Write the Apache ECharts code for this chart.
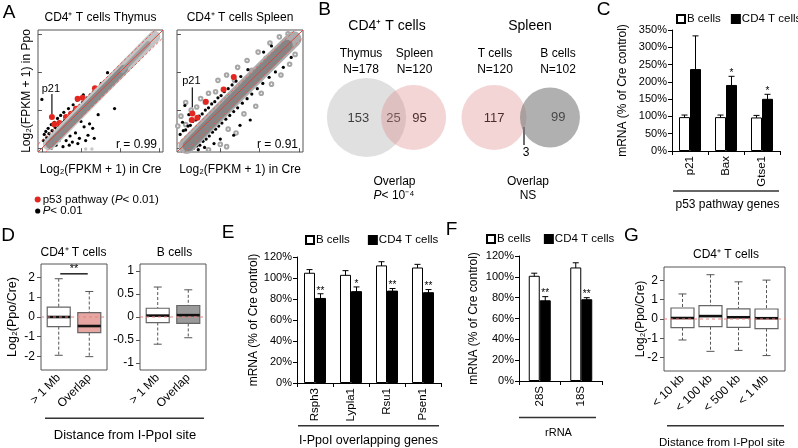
<!DOCTYPE html>
<html><head><meta charset="utf-8">
<script src="https://cdn.jsdelivr.net/npm/echarts@6/dist/echarts.min.js"></script>
<style>html,body{margin:0;padding:0;background:#fff}#c{width:798px;height:448px}</style>
</head><body><div id="c"></div>
<script>
const FONT = '"Liberation Sans", Arial, Helvetica, sans-serif';

// ---------- Panel A data (log2(FPKM+1), Cre vs Ppo) ----------
const aTicks = [0, 5, 10, 15];
const diagOffsets = [0, 1, -1];
const thymusCloudHalo = [[0.9, 0.5], [5, 4.8], [10, 10], [14.4, 14.6]];
const thymusCloudCore = [[1.0, 0.5], [5, 4.7], [10.5, 10.4]];
const thymusCloudTop = [[10.3, 10.2], [13.6, 13.7]];
const thymusLight = [[5.6, -0.1], [6.4, -0.1], [12.5, 13.4], [13.8, 14.3], [11.8, 12.4], [14.3, 14.6], [13.1, 12.6]];
const thymusBlack = [
  [0.6,1.4],[0.9,1.9],[1.1,1.6],[1.3,2.3],[1.5,2.0],[1.7,2.7],[1.9,2.4],[2.1,3.0],[2.3,2.8],[2.5,3.4],
  [2.7,3.1],[2.9,3.7],[3.1,3.5],[3.3,4.1],[3.5,3.9],[3.7,4.5],[3.9,4.3],[4.1,4.9],[4.3,4.7],[4.6,5.3],
  [4.9,5.6],[5.2,6.0],[5.5,6.3],[5.8,6.6],[6.2,7.0],[6.6,7.4],[7.0,7.8],
  [0.8,2.6],[1.2,3.1],[1.6,3.4],[2.0,3.9],[2.4,4.3],[2.8,4.7],[3.4,5.2],[4.0,5.7],[4.5,6.3],[5.3,7.0],[0.5,2.2],
  [0.2,1.0],[0.4,0.6],[0.3,1.8],
  [0.0,6.4],[9.3,5.2],[8.4,9.9],[9.2,9.6],[7.6,8.5],[10.5,10.9],
  [5.0,3.5],[5.4,2.8],[6.1,3.2],[6.5,2.6],[5.9,1.7],[4.8,1.3],[5.6,1.0],[6.7,1.3],[4.6,0.6],[3.9,0.8],
  [3.5,0.4],[2.7,0.2],[1.8,0.4],[1.2,0.0],[3.1,1.0],[2.2,1.0],[4.3,2.0],[3.6,1.6],[7.2,4.4]
];
const thymusRed = [[1.28,4.08],[1.58,3.13],[2.22,3.3],[3.08,4.08],[3.72,4.52],[4.36,5.17],[4.57,6.48],[5.21,6.61],[6.79,7.87]];
const thymusP21 = [1.28, 4.08];

const spleenCloudHalo = [[0.7, 0.3], [7, 6.9], [14.3, 14.3]];
const spleenCloudCore = [[0.9, 0.3], [7, 6.8], [13.5, 13.5]];
const spleenOpen = [
  [-0.4,2.9],[0.2,0.3],[0.0,4.2],[0.6,6.0],[1.3,5.0],[2.5,6.5],[3.5,7.2],[4.7,8.9],[5.8,9.6],[7.2,10.6],
  [8.4,11.5],[9.8,12.6],[11.3,13.8],[12.5,14.6],[13.6,15.0],[1.0,-0.3],[3.5,-0.2],[5.0,0.5],[6.0,2.5],[7.0,2.0],
  [8.0,4.5],[9.5,5.5],[10.2,7.2],[11.5,8.4],[12.7,9.6],[13.8,11.0],[14.5,12.3],[0.6,3.1],[1.5,1.6],[2.0,5.4],
  [5.8,0.2],[3.1,6.0],[6.8,8.9],[10.8,11.8],[12.8,12.0],[4.4,7.4],[9.0,10.2],[14.8,14.2]
];
const spleenBlack = [
  [-0.1,1.8],[0.3,2.3],[0.6,2.4],[0.9,2.9],[1.2,3.0],[1.5,3.5],[1.9,3.7],[2.3,4.2],[2.7,4.5],[3.1,5.0],
  [3.5,5.3],[3.9,5.8],[4.3,6.1],[4.7,6.6],[5.1,6.9],[5.5,7.4],[6.0,7.8],[6.5,8.3],[7.0,8.8],[7.6,9.4],
  [0.2,3.4],[1.0,4.4],[0.5,5.6],[8.5,10.3],[10.5,12.6],[11.5,13.4],
  [1.6,0.0],[2.0,0.3],[2.4,0.4],[2.8,0.9],[3.2,1.2],[3.6,1.6],[4.0,2.1],[4.4,2.5],[4.8,2.9],[5.2,3.3],
  [5.7,3.8],[6.2,4.3],[6.7,4.8],[7.2,5.3],[7.8,5.9],[8.4,6.5],[9.0,7.1],[9.7,7.8],[10.4,8.5],[11.2,9.3],
  [12.0,10.0],[13.0,10.6],[2.2,-0.2],[3.0,0.1],[6.7,1.7],[8.8,3.7],[5.0,1.2],[7.5,3.0],[14.0,11.9],[4.2,0.6]
];
const spleenRed = [[6.71,9.34],[5.42,7.69],[3.16,6.08],[1.45,4.56],[2.09,4.0],[1.37,3.69]];
const spleenP21 = [1.45, 4.56];
const rValues = ['r = 0.99', 'r = 0.91'];

// ---------- Panel B (Venn) ----------
const venn1Names = ['Thymus', 'Spleen'];
const venn1N = [178, 120];
const venn1Counts = [153, 25, 95];
const venn1P = 'P< 10⁻⁴';
const venn2Names = ['T cells', 'B cells'];
const venn2N = [120, 102];
const venn2Counts = [117, 3, 99];
const venn2P = 'NS';

// ---------- Panel C ----------
const cCats = ['p21', 'Bax', 'Gtse1'];
const cB = [98, 98, 97];
const cBErr = [6, 6, 6];
const cT = [237, 191, 151];
const cTErr = [96, 25, 13];
const cSig = ['', '*', '*'];

// ---------- Panel D ----------
const dCats = ['> 1 Mb', 'Overlap'];
// [min, q1, median, q3, max]
const dCd4 = [[-1.95, -0.49, 0.0, 0.5, 1.95], [-2.02, -0.8, -0.46, 0.22, 1.3]];
const dBcell = [[-0.59, -0.12, 0.03, 0.19, 0.65], [-0.45, -0.14, 0.04, 0.25, 0.59]];
const dSigPair = [1.05, 1.95];
const dSigY = 2.2;
const dSigLabel = '**';
const dTicksCd4 = [-2, -1, 0, 1, 2];
const dTicksB = [-1, -0.5, 0, 0.5, 1];

// ---------- Panel E ----------
const eCats = ['Rsph3', 'Lypla1', 'Rsu1', 'Psen1'];
const eB = [105, 103, 112, 110];
const eBErr = [3, 4, 3.5, 3];
const eT = [81, 87.5, 88, 86.5];
const eTErr = [4, 4, 2, 2.5];
const eSig = ['**', '*', '**', '**'];

// ---------- Panel F ----------
const fCats = ['28S', '18S'];
const fB = [101, 109];
const fBErr = [2.5, 4.5];
const fT = [77.5, 78.5];
const fTErr = [3.5, 1.5];
const fSig = ['**', '**'];

// ---------- Panel G ----------
const gCats = ['< 10 kb', '< 100 kb', '< 500 kb', '< 1 Mb'];
const gStats = [[-1.09, -0.45, 0.05, 0.57, 1.3], [-1.68, -0.4, 0.15, 0.69, 2.3], [-1.63, -0.43, 0.09, 0.53, 1.93], [-1.9, -0.5, 0.04, 0.52, 2.02]];
const gTicks = [-2, -1, 0, 1, 2];

// ================== layout / styles ==================
const FRAME = '#555';
const BW = 11;
const grids = [
  {left: 38, top: 30, width: 125, height: 122},   // 0 A thymus
  {left: 177, top: 30, width: 126, height: 122},  // 1 A spleen
  {left: 672, top: 30, width: 108, height: 121},  // 2 C
  {left: 41, top: 264, width: 66, height: 106},   // 3 D CD4
  {left: 140, top: 264, width: 66, height: 106},  // 4 D B cells
  {left: 297, top: 257, width: 144, height: 126}, // 5 E
  {left: 519, top: 256, width: 83, height: 125},  // 6 F
  {left: 664, top: 267, width: 121, height: 104}, // 7 G
  {left: 0, top: 0, width: 798, height: 448}      // 8 Venn canvas
].map((g, i) => Object.assign({containLabel: false}, g,
  [0, 1, 3, 4, 7].includes(i) ? {show: true, borderColor: FRAME, borderWidth: 1, backgroundColor: 'transparent'} : {show: false}));

function aAxis(g) {
  return {gridIndex: g, type: 'value', min: -0.5, max: 15.5,
    axisLine: {show: false}, splitLine: {show: false},
    axisTick: {show: true, customValues: aTicks, length: 4, lineStyle: {color: FRAME}},
    axisLabel: {show: false}};
}
function barX(g, cats) {
  return {gridIndex: g, type: 'category', data: cats,
    axisLine: {show: true, lineStyle: {color: '#000', width: 1}},
    axisTick: {show: true, length: 4, lineStyle: {color: '#000'}},
    axisLabel: {rotate: 90, fontSize: 11.5, fontFamily: FONT, color: '#000', margin: 5}};
}
function barY(g, max, step) {
  return {gridIndex: g, type: 'value', min: 0, max: max, interval: step,
    axisLine: {show: true, lineStyle: {color: '#000'}},
    axisTick: {show: true, length: 4, lineStyle: {color: '#000'}},
    splitLine: {show: false},
    axisLabel: {formatter: '{value}%', fontSize: 11, fontFamily: FONT, color: '#000', margin: 5}};
}
function boxX(g, cats, mn, mx) {
  const cv = cats.map((c, i) => i + 1);
  return {gridIndex: g, type: 'value', min: mn, max: mx,
    axisLine: {show: false}, splitLine: {show: false},
    axisTick: {show: true, customValues: cv, length: 4, lineStyle: {color: FRAME}},
    axisLabel: {customValues: cv, formatter: v => cats[Math.round(v) - 1], rotate: 45,
      fontSize: 12, fontFamily: FONT, color: '#000', margin: 6}};
}
function boxY(g, mn, mx, ticks) {
  return {gridIndex: g, type: 'value', min: mn, max: mx,
    axisLine: {show: false}, splitLine: {show: false},
    axisTick: {show: true, customValues: ticks, length: 4, lineStyle: {color: FRAME}},
    axisLabel: {customValues: ticks, fontSize: 12, fontFamily: FONT, color: '#000', margin: 6}};
}

const xAxis = [aAxis(0), aAxis(1), barX(2, cCats), boxX(3, dCats, 0.42, 2.58), boxX(4, dCats, 0.42, 2.58),
  barX(5, eCats), barX(6, fCats), boxX(7, gCats, 0.34, 4.66),
  {gridIndex: 8, type: 'value', min: 0, max: 798, show: false}];
const yAxis = [aAxis(0), aAxis(1), barY(2, 350, 50), boxY(3, -2.7, 2.7, dTicksCd4), boxY(4, -1.15, 1.15, dTicksB),
  barY(5, 120, 20), barY(6, 120, 20), boxY(7, -2.7, 2.7, gTicks),
  {gridIndex: 8, type: 'value', min: 0, max: 448, inverse: true, show: false}];

const series = [];
function lineS(g, data, color, width, extra) {
  series.push({type: 'line', xAxisIndex: g, yAxisIndex: g, data: data, showSymbol: false, silent: true,
    lineStyle: Object.assign({color: color, width: width, cap: 'round', join: 'round'}, extra || {})});
}
function scatterS(g, data, color, size, symbol) {
  series.push({type: 'scatter', xAxisIndex: g, yAxisIndex: g, data: data, symbol: symbol || 'circle',
    symbolSize: size, silent: true, itemStyle: {color: color, opacity: 1}});
}
function diag(g) {
  diagOffsets.forEach(o => {
    lineS(g, [[-0.5, -0.5 + o], [15.5, 15.5 + o]], o === 0 ? '#d8463f' : '#e0605a', 1,
      o === 0 ? {type: 'solid', cap: 'butt'} : {type: [3, 2], cap: 'butt'});
  });
}
// A thymus
lineS(0, thymusCloudHalo, '#c4c4c4', 12);
lineS(0, thymusCloudCore, '#8a8a8a', 8);
lineS(0, thymusCloudTop, '#a0a0a0', 5);
scatterS(0, thymusLight, '#c8c8c8', 3.5);
scatterS(0, thymusBlack, '#000', 3.2);
diag(0);
scatterS(0, thymusRed, '#e3261f', 6);
// A spleen
lineS(1, spleenCloudHalo, '#acacac', 16);
lineS(1, spleenCloudCore, '#858585', 11);
scatterS(1, spleenOpen, '#a6a6a6', 3.6, 'emptyCircle');
scatterS(1, spleenBlack, '#000', 3.2);
diag(1);
scatterS(1, spleenRed, '#e3261f', 6);

// Bars with error bars
function errSeries(g, vals, errs, sigs, side) {
  series.push({type: 'custom', name: 'err', xAxisIndex: g, yAxisIndex: g, silent: true,
    data: vals.map((v, i) => [i, v, errs[i], sigs ? sigs[i].length : 0]),
    encode: {x: 0, y: 1},
    renderItem: (params, api) => {
      const i = api.value(0), v = api.value(1), e = api.value(2), s = api.value(3);
      const c = api.coord([i, v]), top = api.coord([i, v + e]), bot = api.coord([i, v - e]);
      const x = c[0] + side * BW / 2, cw = 3;
      const st = {stroke: '#000', lineWidth: 1};
      const ch = [
        {type: 'line', shape: {x1: x, y1: top[1], x2: x, y2: bot[1]}, style: st},
        {type: 'line', shape: {x1: x - cw, y1: top[1], x2: x + cw, y2: top[1]}, style: st},
        {type: 'line', shape: {x1: x - cw, y1: bot[1], x2: x + cw, y2: bot[1]}, style: st}];
      if (s > 0) ch.push({type: 'text', style: {text: '*'.repeat(s), x: x, y: top[1] + 2, align: 'center',
        verticalAlign: 'bottom', fontSize: 10, fontFamily: FONT, fill: '#000'}});
      return {type: 'group', children: ch};
    }});
}
function barPanel(g, bVals, bErr, tVals, tErr, tSig) {
  series.push({type: 'bar', name: 'B cells', xAxisIndex: g, yAxisIndex: g, data: bVals, barWidth: BW, barGap: '0%',
    silent: true, itemStyle: {color: '#fff', borderColor: '#000', borderWidth: 1}});
  series.push({type: 'bar', name: 'CD4 T cells', xAxisIndex: g, yAxisIndex: g, data: tVals, barWidth: BW, barGap: '0%',
    silent: true, itemStyle: {color: '#000', borderColor: '#000', borderWidth: 1}});
  errSeries(g, bVals, bErr, null, -1);
  errSeries(g, tVals, tErr, tSig, 1);
}
barPanel(2, cB, cBErr, cT, cTErr, cSig);
barPanel(5, eB, eBErr, eT, eTErr, eSig);
barPanel(6, fB, fBErr, fT, fTErr, fSig);

// Boxplots
function zeroLine(g, mn, mx) {
  lineS(g, [[mn, 0], [mx, 0]], '#e88080', 1, {type: [3, 3], cap: 'butt'});
}
function boxSeries(g, stats, fills) {
  series.push({type: 'custom', xAxisIndex: g, yAxisIndex: g, silent: true,
    data: stats.map((s, i) => [i + 1].concat(s)),
    encode: {x: 0, y: [1, 2, 3, 4, 5]},
    renderItem: (params, api) => {
      const x = api.value(0);
      const p = [1, 2, 3, 4, 5].map(k => api.coord([x, api.value(k)]));
      const cx = p[0][0], hw = 11.5, cw = 4;
      const wl = {stroke: '#555', lineWidth: 1, lineDash: [3, 2]};
      const sl = {stroke: '#555', lineWidth: 1};
      return {type: 'group', children: [
        {type: 'line', shape: {x1: cx, y1: p[4][1], x2: cx, y2: p[3][1]}, style: wl},
        {type: 'line', shape: {x1: cx, y1: p[1][1], x2: cx, y2: p[0][1]}, style: wl},
        {type: 'line', shape: {x1: cx - cw, y1: p[4][1], x2: cx + cw, y2: p[4][1]}, style: sl},
        {type: 'line', shape: {x1: cx - cw, y1: p[0][1], x2: cx + cw, y2: p[0][1]}, style: sl},
        {type: 'rect', shape: {x: cx - hw, y: p[3][1], width: 2 * hw, height: p[1][1] - p[3][1]},
          style: {fill: fills[params.dataIndex], stroke: '#666', lineWidth: 1.2}},
        {type: 'line', shape: {x1: cx - hw, y1: p[2][1], x2: cx + hw, y2: p[2][1]}, style: {stroke: '#111', lineWidth: 2.6}}
      ]};
    }});
}
zeroLine(3, 0.42, 2.58);
boxSeries(3, dCd4, ['#fff', '#e8a6a2']);
series.push({type: 'custom', xAxisIndex: 3, yAxisIndex: 3, silent: true, data: [[dSigPair[0], dSigPair[1], dSigY]],
  encode: {x: [0, 1], y: 2},
  renderItem: (params, api) => {
    const a = api.coord([api.value(0), api.value(2)]), b = api.coord([api.value(1), api.value(2)]);
    return {type: 'group', children: [
      {type: 'line', shape: {x1: a[0], y1: a[1], x2: b[0], y2: b[1]}, style: {stroke: '#222', lineWidth: 1.5}},
      {type: 'text', style: {text: dSigLabel, x: (a[0] + b[0]) / 2, y: a[1] + 1, align: 'center', verticalAlign: 'bottom',
        fontSize: 11, fontFamily: FONT, fill: '#000'}}]};
  }});
zeroLine(4, 0.42, 2.58);
boxSeries(4, dBcell, ['#fff', '#9a9a9a']);
zeroLine(7, 0.34, 4.66);
boxSeries(7, gStats, ['#fff', '#fff', '#fff', '#fff']);

// Venn circles (area proportional to N) on the canvas grid
const K = 2.967;
function vennSeries(cx1, cy, N, overlapW, colors) {
  const r1 = K * Math.sqrt(N[0]), r2 = K * Math.sqrt(N[1]);
  const cx2 = cx1 + r1 + r2 - overlapW;
  series.push({type: 'scatter', xAxisIndex: 8, yAxisIndex: 8, silent: true, z: 1,
    data: [{value: [cx1, cy], symbolSize: 2 * r1, itemStyle: {color: colors[0]}},
           {value: [cx2, cy], symbolSize: 2 * r2, itemStyle: {color: colors[1]}}]});
}
vennSeries(366.5, 117.5, venn1N, 25, ['rgba(170,170,170,0.45)', 'rgba(220,130,130,0.42)']);
vennSeries(494, 117.5, venn2N, 6.5, ['rgba(220,130,130,0.42)', 'rgba(118,118,118,0.72)']);

const legendBase = {icon: 'rect', itemWidth: 8, itemHeight: 8, selectedMode: false, padding: 0, orient: 'horizontal',
  width: 220, data: ['B cells', 'CD4 T cells'],
  textStyle: {fontSize: 11.5, fontFamily: FONT, fontWeight: 'normal', color: '#000', padding: [0, 0, 0, -3]}};
const legend = [
  Object.assign({}, legendBase, {left: 676, top: 13, itemGap: 10}),
  Object.assign({}, legendBase, {left: 305, top: 234, itemGap: 18}),
  Object.assign({}, legendBase, {left: 486, top: 233, itemGap: 13})
];

const chart = echarts.init(document.getElementById('c'), null, {renderer: 'canvas', width: 798, height: 448});
chart.setOption({animation: false, backgroundColor: '#fff', grid: grids, xAxis: xAxis, yAxis: yAxis, legend: legend, series: series});

// ---------- texts / annotations ----------
const els = [];
function T(x, y, text, size, o) {
  o = o || {};
  const st = {text: text, fontSize: size, fontFamily: FONT, fill: '#000', align: o.align || 'center', verticalAlign: 'middle'};
  if (o.rich) st.rich = o.rich;
  els.push({type: 'text', x: x, y: y, rotation: o.rot ? Math.PI / 2 : 0, silent: true, style: st});
}
function L(x1, y1, x2, y2, w, c) {
  els.push({type: 'line', silent: true, shape: {x1, y1, x2, y2}, style: {stroke: c || '#333', lineWidth: w || 1.5}});
}
const ital = s => ({i: {fontStyle: 'italic', fontSize: s, fontFamily: FONT, fill: '#000'}});
// panel letters
[['A', 9, 13], ['B', 324.5, 10], ['C', 603.5, 9.5], ['D', 8, 236], ['E', 228, 233], ['F', 451.5, 230], ['G', 631.5, 236]]
  .forEach(a => T(a[1], a[2], a[0], 19));
// A
T(100.5, 17.5, 'CD4⁺ T cells Thymus', 12);
T(240, 17.5, 'CD4⁺ T cells Spleen', 12);
T(100.5, 170, 'Log₂(FPKM + 1) in Cre', 12);
T(240, 170, 'Log₂(FPKM + 1) in Cre', 12);
T(27, 91, 'Log₂(FPKM + 1) in Ppo', 12, {rot: true});
T(157, 145, rValues[0], 12, {align: 'right'});
T(298, 145, rValues[1], 12, {align: 'right'});
const pt = chart.convertToPixel({gridIndex: 0}, thymusP21);
L(pt[0], pt[1] - 3, pt[0], pt[1] - 23, 1.3, '#222');
T(pt[0] - 1, pt[1] - 28, 'p21', 11);
const ps = chart.convertToPixel({gridIndex: 1}, spleenP21);
L(ps[0], ps[1] - 6, ps[0], ps[1] - 26, 1.3, '#222');
T(ps[0] - 1, ps[1] - 32, 'p21', 11);
els.push({type: 'circle', silent: true, shape: {cx: 37.7, cy: 199.4, r: 3}, style: {fill: '#e3261f'}});
els.push({type: 'circle', silent: true, shape: {cx: 37.7, cy: 211, r: 2.6}, style: {fill: '#000'}});
T(42.7, 199.4, 'p53 pathway ({i|P}< 0.01)', 11.5, {align: 'left', rich: ital(11.5)});
T(42.7, 211, '{i|P}< 0.01', 11.5, {align: 'left', rich: ital(11.5)});
// B
T(387, 26, 'CD4⁺ T cells', 14);
T(530, 26, 'Spleen', 14);
T(361, 54, venn1Names[0], 12); T(361, 69.5, 'N=' + venn1N[0], 12);
T(414.5, 54, venn1Names[1], 12); T(414.5, 69.5, 'N=' + venn1N[1], 12);
T(495, 54, venn2Names[0], 12); T(495, 69.5, 'N=' + venn2N[0], 12);
T(558, 54, venn2Names[1], 12); T(558, 69.5, 'N=' + venn2N[1], 12);
T(358.3, 118, String(venn1Counts[0]), 13);
T(393.5, 118, String(venn1Counts[1]), 13);
T(419.5, 118, String(venn1Counts[2]), 13);
T(494, 118, String(venn2Counts[0]), 13);
T(558.3, 117, String(venn2Counts[2]), 13);
L(524, 127, 524, 145, 1.3, '#222');
T(526, 153, String(venn2Counts[1]), 12);
T(394.5, 182, 'Overlap', 12);
T(394, 195.5, '{i|P}< 10⁻⁴', 12, {rich: ital(12)});
T(528, 182, 'Overlap', 12);
T(528, 196, venn2P, 12);
// C
T(622.5, 90.5, 'mRNA (% of Cre control)', 12, {rot: true});
L(673, 191, 779, 191);
T(727.5, 205, 'p53 pathway genes', 12);
// D
T(73.5, 252.3, 'CD4⁺ T cells', 12);
T(174.5, 252.3, 'B cells', 12);
T(12.5, 317, 'Log₂(Ppo/Cre)', 12.5, {rot: true});
L(45, 418.3, 204, 418.3);
T(125, 435.7, 'Distance from I-PpoI site', 13);
// E
T(253.5, 320, 'mRNA (% of Cre control)', 12, {rot: true});
L(298, 425.7, 439, 425.7);
T(368.5, 441, 'I-PpoI overlapping genes', 12.5);
// F
T(474, 318.5, 'mRNA (% of Cre control)', 12, {rot: true});
L(519, 417.5, 596, 417.5);
T(558.5, 432.7, 'rRNA', 11);
// G
T(726, 255, 'CD4⁺ T cells', 12);
T(641, 319, 'Log₂(Ppo/Cre)', 12, {rot: true});
L(667, 425.7, 784, 425.7);
T(722, 442.7, 'Distance from I-PpoI site', 11.5);

chart.setOption({graphic: {elements: els}});
</script></body></html>
